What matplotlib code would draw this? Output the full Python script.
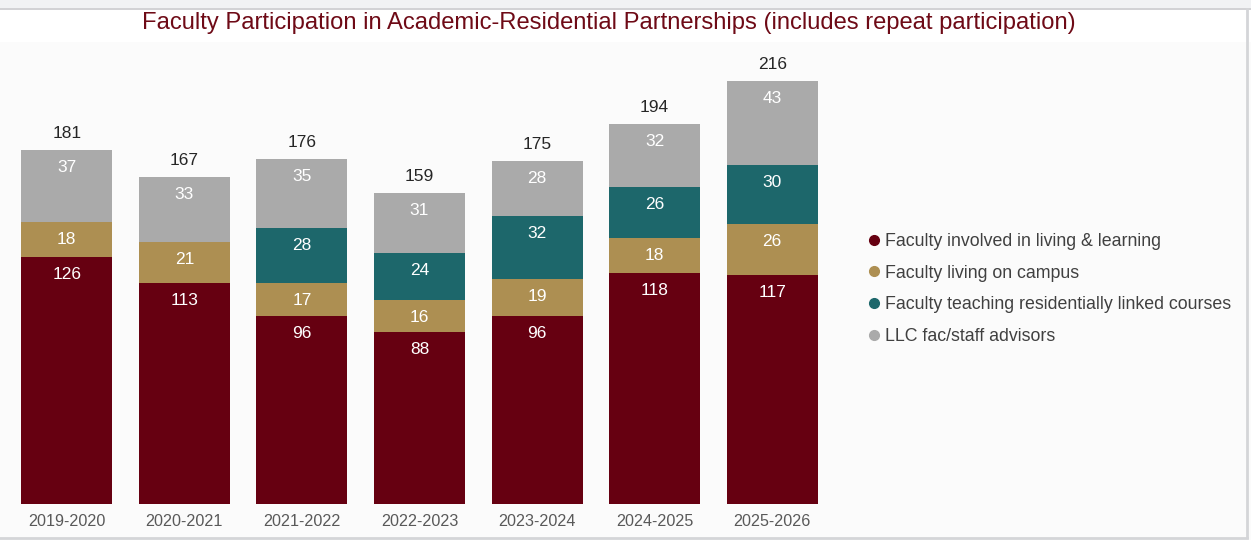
import matplotlib
matplotlib.use("Agg")
import matplotlib.pyplot as plt
from matplotlib.patches import Rectangle
from matplotlib.lines import Line2D
import numpy as np

plt.rcParams['font.family'] = ['Liberation Sans', 'DejaVu Sans']

years = ["2019-2020", "2020-2021", "2021-2022", "2022-2023",
         "2023-2024", "2024-2025", "2025-2026"]
living_learning = [126, 113, 96, 88, 96, 118, 117]
living_campus = [18, 21, 17, 16, 19, 18, 26]
teaching_linked = [0, 0, 28, 24, 32, 26, 30]
llc_advisors = [37, 33, 35, 31, 28, 32, 43]
totals = [181, 167, 176, 159, 175, 194, 216]

series_names = ["Faculty involved in living & learning",
                "Faculty living on campus",
                "Faculty teaching residentially linked courses",
                "LLC fac/staff advisors"]
colors = ["#660011", "#ad8f52", "#1d676b", "#aaaaaa"]

W, H = 1251, 540
fig = plt.figure(figsize=(W / 100, H / 100), dpi=100, facecolor="#fbfbfb")

# background bands
fig.patches.append(Rectangle((0, (H - 8) / H), 1, 8 / H, transform=fig.transFigure,
                             facecolor="#f1f2f4", edgecolor="none", zorder=0))
fig.patches.append(Rectangle((0, (H - 42) / H), 1, 34 / H, transform=fig.transFigure,
                             facecolor="white", edgecolor="none", zorder=0))
fig.add_artist(Line2D([0, 1], [(H - 8.5) / H] * 2, transform=fig.transFigure,
                      color="#c9cacd", lw=1.2))
fig.add_artist(Line2D([(1247) / W] * 2, [(H - 537) / H, (H - 8.5) / H],
                      transform=fig.transFigure, color="#d4d5d8", lw=2))
fig.add_artist(Line2D([0, 1247 / W], [(H - 537.5) / H] * 2,
                      transform=fig.transFigure, color="#d4d5d8", lw=2))

fig.text(609 / W, (H - 23) / H,
         "Faculty Participation in Academic-Residential Partnerships (includes repeat participation)",
         ha="center", va="center", fontsize=17.1, color="#6e0a16")

ax = fig.add_axes([8 / W, (H - 504) / H, 823 / W, 462 / H])
ax.set_facecolor("none")
x = np.arange(len(years))
stack = [living_learning, living_campus, teaching_linked, llc_advisors]
bottom = np.zeros(len(years))
for vals, col, name in zip(stack, colors, series_names):
    vals = np.array(vals, dtype=float)
    ax.bar(x, vals, bottom=bottom, width=0.775, color=col, label=name,
           linewidth=0)
    for xi, b, v in zip(x, bottom, vals):
        if v > 0:
            ax.annotate(f"{int(v)}", (xi, b + v), xytext=(0, -12.5),
                        textcoords="offset points", ha="center", va="center",
                        fontsize=12.5, color="white")
    bottom += vals

for xi, t in zip(x, totals):
    ax.annotate(f"{t}", (xi, t), xytext=(0, 12), textcoords="offset points",
                ha="center", va="center", fontsize=12.5, color="#262626")

ax.set_xlim(-0.5, 6.5)
ax.set_ylim(0, 236)
ax.set_xticks(x)
ax.set_xticklabels(years, fontsize=11.6, color="#595959")
ax.tick_params(axis="x", length=0, pad=7)
ax.set_yticks([])
for s in ax.spines.values():
    s.set_visible(False)

handles = [Line2D([], [], marker="o", linestyle="none", markersize=7,
                  markerfacecolor=c, markeredgecolor=c) for c in colors]
fig.legend(handles, series_names, loc="center left",
           bbox_to_anchor=(860 / W, (H - 289) / H), frameon=False,
           fontsize=12.8, labelcolor="#404040", handlelength=0.6,
           handletextpad=0.3, labelspacing=0.83, borderpad=0)

fig.savefig("out.png", dpi=100, facecolor=fig.get_facecolor())
